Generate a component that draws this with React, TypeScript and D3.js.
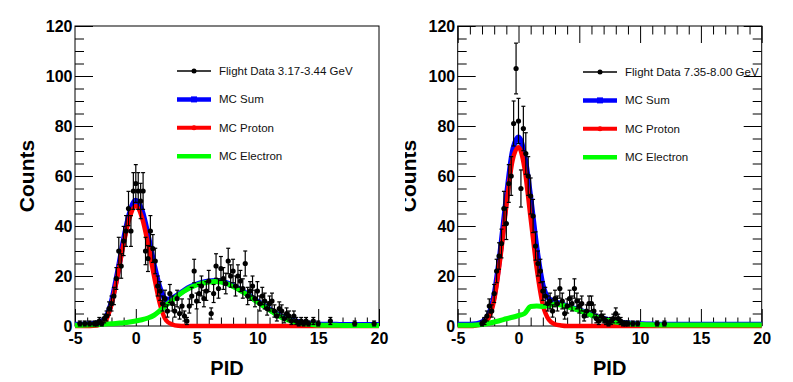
import React, { useEffect, useRef } from "react";
import * as d3 from "d3";

// MC curves, one value every 0.5 in PID from -5 to 20
const mcStep = 0.5;

const leftProton = [
  0, 0, 0, 0.1, 0.5, 2.0, 8.5, 20, 33, 43.5,
  48, 43.5, 33, 20, 8.5, 2.2, 0.6, 0.1, 0, 0,
  0, 0, 0, 0, 0, 0, 0, 0, 0, 0,
  0, 0, 0, 0, 0, 0, 0, 0, 0, 0,
  0, 0, 0, 0, 0, 0, 0, 0, 0, 0,
  0,
];
const leftElectron = [
  0.3, 0.3, 0.4, 0.5, 0.6, 0.8, 0.9, 1.1, 1.3, 1.6,
  2.0, 2.5, 3.2, 4.3, 6.2, 8.3, 10.3, 12.3, 14.0, 15.4,
  16.4, 17.1, 17.6, 17.8, 17.6, 16.9, 15.8, 14.5, 13.0, 11.3,
  9.6, 8.0, 6.4, 4.8, 3.4, 2.4, 1.7, 1.2, 0.8, 0.6,
  0.4, 0.3, 0.3, 0.3, 0.2, 0.2, 0.2, 0.2, 0.2, 0.2,
  0.2,
];
const leftSum = [
  0.6, 0.6, 0.7, 0.9, 1.4, 3.0, 9.6, 21.3, 34.5, 45.3,
  50.2, 46.2, 36.4, 24.5, 14.9, 10.6, 11.1, 12.6, 14.3, 15.7,
  16.7, 17.4, 17.9, 18.1, 17.9, 17.2, 16.1, 14.8, 13.3, 11.6,
  9.9, 8.3, 6.7, 5.1, 3.7, 2.7, 2.0, 1.5, 1.1, 0.9,
  0.7, 0.6, 0.6, 0.6, 0.5, 0.5, 0.5, 0.5, 0.5, 0.5,
  0.5,
];

const rightProton = [
  0, 0, 0, 0.2, 0.8, 2.8, 10.5, 27, 48, 66,
  71.5, 63, 43, 23, 8.5, 2.5, 0.7, 0.2, 0, 0,
  0, 0, 0, 0, 0, 0, 0, 0, 0, 0,
  0, 0, 0, 0, 0, 0, 0, 0, 0, 0,
  0, 0, 0, 0, 0, 0, 0, 0, 0, 0,
  0,
];
const rightElectron = [
  0.3, 0.3, 0.3, 0.4, 0.6, 1.0, 1.6, 2.2, 2.9, 3.5,
  4.2, 5.0, 7.8, 8.0, 7.8, 8.2, 8.8, 8.4, 7.8, 7.0,
  6.2, 5.2, 4.3, 3.4, 2.7, 2.1, 1.6, 1.2, 0.9, 0.7,
  0.6, 0.5, 0.5, 0.4, 0.4, 0.4, 0.4, 0.4, 0.4, 0.4,
  0.4, 0.4, 0.4, 0.4, 0.4, 0.4, 0.4, 0.4, 0.4, 0.4,
  0.4,
];
const rightSum = [
  0.6, 0.6, 0.6, 0.8, 1.5, 4.0, 12.3, 29.5, 51, 69.5,
  75.5, 68, 51, 31, 16.3, 10.9, 9.7, 8.8, 8.0, 7.2,
  6.4, 5.4, 4.5, 3.6, 2.9, 2.3, 1.8, 1.4, 1.1, 0.9,
  0.8, 0.7, 0.7, 0.6, 0.6, 0.6, 0.6, 0.6, 0.6, 0.6,
  0.6, 0.6, 0.6, 0.6, 0.6, 0.6, 0.6, 0.6, 0.6, 0.6,
  0.6,
];

// flight data counts, bins of 0.2 from -5 to 20
const dataStep = 0.2;

const leftCounts = [
  0, 0, 1, 0, 1, 0, 1, 0, 1, 1,
  2, 1, 3, 4, 7, 9, 12, 19, 30, 24,
  34, 38, 47, 38, 54, 57, 54, 50, 54, 30,
  27, 38, 31, 26, 16, 14, 9, 11, 6, 13,
  9, 6, 11, 5, 8, 4, 2, 8, 12, 22,
  10, 13, 16, 11, 14, 18, 5, 13, 24, 15,
  23, 19, 17, 26, 20, 22, 16, 20, 18, 15,
  25, 12, 14, 16, 11, 14, 9, 12, 10, 7,
  9, 10, 6, 4, 7, 6, 3, 5, 4, 2,
  4, 2, 1, 2, 1, 2, 1, 0, 2, 0,
  1, 0, 0, 0, 0, 2, 0, 0, 0, 0,
  0, 0, 0, 0, 0, 1, 0, 0, 0, 0,
  0, 0, 0, 1, 0, 0,
];
const rightCounts = [
  0, 0, 0, 0, 0, 0, 0, 0, 0, 0,
  1, 2, 4, 8, 6, 13, 22, 28, 33, 47,
  41, 57, 60, 81, 103, 82, 55, 79, 69, 60,
  52, 44, 32, 25, 22, 14, 12, 9, 10, 6,
  11, 9, 15, 10, 5, 8, 11, 9, 15, 10,
  8, 9, 4, 6, 9, 9, 6, 3, 2, 4,
  3, 2, 1, 2, 3, 5, 3, 2, 1, 1,
  1, 0, 1, 0, 1, 0, 0, 0, 0, 0,
  0, 0, 1, 0, 0, 1, 0, 0, 0, 0,
  0, 0, 0, 0, 0, 0, 0, 0, 0, 0,
  0, 0, 0, 0, 0, 0, 0, 0, 0, 0,
  0, 0, 0, 0, 0, 0, 0, 0, 0, 0,
  0, 0, 0, 0, 0, 0,
];

const xTicks = [-5, 0, 5, 10, 15, 20];
const yTicks = [0, 20, 40, 60, 80, 100, 120];
const seriesLabels = ["MC Sum", "MC Proton", "MC Electron"];

const panels = [
  {
    dx: 0,
    dataLabel: "Flight Data 3.17-3.44 GeV",
    sum: leftSum,
    proton: leftProton,
    electron: leftElectron,
    counts: leftCounts,
    legendX: 177,
    legendY: 71,
    boxTicks: false,
    clipLeft: 0,
  },
  {
    dx: 382.7,
    dataLabel: "Flight Data 7.35-8.00 GeV",
    sum: rightSum,
    proton: rightProton,
    electron: rightElectron,
    counts: rightCounts,
    legendX: 200.3,
    legendY: 72,
    boxTicks: true,
    clipLeft: 405,
  },
];

const font = "'Liberation Sans', Arial, Helvetica, sans-serif";

const App = () => {
  const chart = useRef<SVGSVGElement>(null);

  useEffect(() => {
    const svg = d3.select(chart.current);
    svg.selectAll("*").remove();

    const frame = { left: 75, right: 379, top: 26, bottom: 326 };
    const x = d3.scaleLinear().domain([-5, 20]).range([frame.left, frame.right]);
    const y = d3.scaleLinear().domain([0, 120]).range([frame.bottom, frame.top]);

    const xMinor = d3.range(-5, 21, 1).filter((v) => !xTicks.includes(v));
    const yMinor = d3.range(0, 121, 5).filter((v) => !yTicks.includes(v));

    const styleAxis = (g: any) => {
      g.select(".domain").remove();
      g.selectAll("line").attr("stroke", "#000").attr("stroke-width", 1);
      g.selectAll("text")
        .attr("fill", "#000")
        .attr("font-family", font)
        .attr("font-weight", "bold")
        .attr("font-size", 16);
    };

    const defs = svg.append("defs");

    panels.forEach((p, pi) => {
      const outer = svg.append("g");
      if (p.clipLeft) {
        defs
          .append("clipPath")
          .attr("id", `clip${pi}`)
          .append("rect")
          .attr("x", p.clipLeft)
          .attr("y", 0)
          .attr("width", 793 - p.clipLeft)
          .attr("height", 382);
        outer.attr("clip-path", `url(#clip${pi})`);
      }
      const g = outer.append("g").attr("transform", `translate(${p.dx},0)`);

      // axes, ticks point inward like ROOT
      g.append("g")
        .attr("transform", `translate(0,${frame.bottom})`)
        .call(d3.axisBottom(x).tickValues(xTicks).tickSize(-17).tickPadding(6.5).tickFormat((d) => String(d)))
        .call(styleAxis);
      g.append("g")
        .attr("transform", `translate(0,${frame.bottom})`)
        .call(d3.axisBottom(x).tickValues(xMinor).tickSize(-8.5).tickFormat(() => ""))
        .call(styleAxis);
      g.append("g")
        .attr("transform", `translate(${frame.left},0)`)
        .call(d3.axisLeft(y).tickValues(yTicks).tickSize(-18).tickPadding(2.5).tickFormat((d) => String(d)))
        .call(styleAxis);
      g.append("g")
        .attr("transform", `translate(${frame.left},0)`)
        .call(d3.axisLeft(y).tickValues(yMinor).tickSize(-9).tickFormat(() => ""))
        .call(styleAxis);

      if (p.boxTicks) {
        g.append("g")
          .attr("transform", `translate(0,${frame.top})`)
          .call(d3.axisTop(x).tickValues(xTicks).tickSize(-17).tickFormat(() => ""))
          .call(styleAxis);
        g.append("g")
          .attr("transform", `translate(0,${frame.top})`)
          .call(d3.axisTop(x).tickValues(xMinor).tickSize(-8.5).tickFormat(() => ""))
          .call(styleAxis);
        g.append("g")
          .attr("transform", `translate(${frame.right},0)`)
          .call(d3.axisRight(y).tickValues(yTicks).tickSize(-18).tickFormat(() => ""))
          .call(styleAxis);
        g.append("g")
          .attr("transform", `translate(${frame.right},0)`)
          .call(d3.axisRight(y).tickValues(yMinor).tickSize(-9).tickFormat(() => ""))
          .call(styleAxis);
      }

      g.append("rect")
        .attr("x", frame.left)
        .attr("y", frame.top)
        .attr("width", frame.right - frame.left)
        .attr("height", frame.bottom - frame.top)
        .attr("fill", "none")
        .attr("stroke", "#000")
        .attr("stroke-width", 1);

      // axis titles
      g.append("text")
        .attr("transform", `translate(33.5,${(frame.top + frame.bottom) / 2}) rotate(-90)`)
        .attr("text-anchor", "middle")
        .attr("font-family", font)
        .attr("font-weight", "bold")
        .attr("font-size", 21)
        .text("Counts");
      g.append("text")
        .attr("x", (frame.left + frame.right) / 2)
        .attr("y", 375)
        .attr("text-anchor", "middle")
        .attr("font-family", font)
        .attr("font-weight", "bold")
        .attr("font-size", 20)
        .text("PID");

      // MC histograms
      const line = d3
        .line<number>()
        .x((d, i) => x(-5 + i * mcStep))
        .y((d) => y(d))
        .curve(d3.curveMonotoneX);

      const curves = [
        { values: p.sum, color: "#0000ff", width: 5.5 },
        { values: p.proton, color: "#ff0000", width: 4.5 },
        { values: p.electron, color: "#00ff00", width: 5 },
      ];
      curves.forEach((c) => {
        g.append("path")
          .datum(c.values)
          .attr("d", line)
          .attr("fill", "none")
          .attr("stroke", c.color)
          .attr("stroke-width", c.width)
          .attr("stroke-linejoin", "round");
      });

      // flight data with sqrt(N) error bars
      const pts = p.counts
        .map((c, i) => ({ v: -5 + i * dataStep, c }))
        .filter((d) => d.c > 0);
      const dg = g.append("g").attr("stroke", "#000").attr("stroke-width", 1.2);
      pts.forEach((d) => {
        const err = Math.sqrt(d.c);
        const cx = x(d.v);
        const y0 = y(Math.max(0, d.c - err));
        const y1 = y(d.c + err);
        dg.append("line").attr("x1", cx).attr("x2", cx).attr("y1", y0).attr("y2", y1);
        dg.append("line").attr("x1", cx - 2).attr("x2", cx + 2).attr("y1", y1).attr("y2", y1);
        dg.append("line").attr("x1", cx - 2).attr("x2", cx + 2).attr("y1", y0).attr("y2", y0);
        dg.append("line")
          .attr("x1", x(d.v - dataStep / 2))
          .attr("x2", x(d.v + dataStep / 2))
          .attr("y1", y(d.c))
          .attr("y2", y(d.c));
      });
      g.append("g")
        .selectAll("circle")
        .data(pts)
        .join("circle")
        .attr("cx", (d) => x(d.v))
        .attr("cy", (d) => y(d.c))
        .attr("r", 2.6)
        .attr("fill", "#000");

      // legend
      const labels = [p.dataLabel, ...seriesLabels];
      const legendStyles = [
        { color: "#000", width: 1.5, marker: "circle" },
        { color: "#0000ff", width: 4.5, marker: "square" },
        { color: "#ff0000", width: 4, marker: "circle" },
        { color: "#00ff00", width: 4.5, marker: "none" },
      ];
      labels.forEach((label, i) => {
        const ly = p.legendY + i * 28.4;
        const st = legendStyles[i];
        const lx0 = p.legendX;
        const lx1 = p.legendX + 34;
        const lg = g.append("g");
        lg.append("line")
          .attr("x1", lx0)
          .attr("x2", lx1)
          .attr("y1", ly)
          .attr("y2", ly)
          .attr("stroke", st.color)
          .attr("stroke-width", st.width);
        if (st.marker === "circle") {
          lg.append("circle").attr("cx", (lx0 + lx1) / 2).attr("cy", ly).attr("r", 2.5).attr("fill", st.color);
        } else if (st.marker === "square") {
          lg.append("rect")
            .attr("x", (lx0 + lx1) / 2 - 3)
            .attr("y", ly - 3)
            .attr("width", 6)
            .attr("height", 6)
            .attr("fill", st.color);
        }
        lg.append("text")
          .attr("x", lx1 + 8)
          .attr("y", ly)
          .attr("dy", "0.35em")
          .attr("font-family", font)
          .attr("font-size", 11.5)
          .attr("fill", "#111")
          .text(label);
      });
    });
  }, []);

  return (
    <div style={{ position: "absolute", left: 0, top: 0 }}>
      <svg ref={chart} width={793} height={382} style={{ display: "block", background: "#fff" }}></svg>
    </div>
  );
};

export default App;
